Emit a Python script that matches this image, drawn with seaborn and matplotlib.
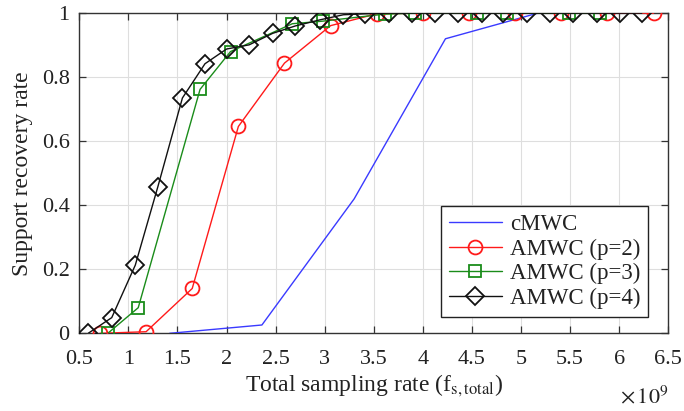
import matplotlib
matplotlib.use("Agg")
import matplotlib.pyplot as plt
import seaborn as sns
import pandas as pd
from matplotlib.lines import Line2D

# Total sampling rate (units of 1e9) and support recovery rate per scheme
cmwc_x = [1.42, 2.36, 3.30, 4.23, 5.17, 6.11]
cmwc_y = [0.0, 0.026, 0.42, 0.92, 1.0, 1.0]

p2_x = [0.71, 1.18, 1.65, 2.12, 2.59, 3.06, 3.53, 4.00, 4.47, 4.94, 5.41, 5.88, 6.35]
p2_y = [0.0, 0.005, 0.14, 0.646, 0.844, 0.961, 0.998, 1.0, 1.0, 1.0, 1.0, 1.0, 1.0]

p3_x = [0.79, 1.10, 1.73, 2.04, 2.67, 2.98, 3.61, 3.92, 4.55, 4.86, 5.49, 5.80]
p3_y = [0.0, 0.08, 0.762, 0.88, 0.967, 0.975, 0.997, 1.0, 1.0, 1.0, 1.0, 1.0]

p4_x = [0.59, 0.83, 1.07, 1.30, 1.55, 1.78, 2.00, 2.23, 2.47, 2.70, 2.95, 3.19,
        3.41, 3.65, 3.89, 4.12, 4.36, 4.60, 4.82, 5.06, 5.29, 5.53, 5.77, 6.01, 6.23]
p4_y = [0.0, 0.049, 0.213, 0.458, 0.735, 0.842, 0.888, 0.901, 0.937, 0.96, 0.979, 0.995,
        0.998, 1.0, 1.0, 1.0, 1.0, 1.0, 1.0, 1.0, 1.0, 1.0, 1.0, 1.0, 1.0]

x_ticks = [0.5, 1, 1.5, 2, 2.5, 3, 3.5, 4, 4.5, 5, 5.5, 6, 6.5]
x_tick_labels = ["0.5", "1", "1.5", "2", "2.5", "3", "3.5", "4", "4.5", "5", "5.5", "6", "6.5"]
y_ticks = [0, 0.2, 0.4, 0.6, 0.8, 1]
y_tick_labels = ["0", "0.2", "0.4", "0.6", "0.8", "1"]

series_names = ["cMWC", "AMWC (p=2)", "AMWC (p=3)", "AMWC (p=4)"]

sns.set_theme(style="white")
plt.rcParams["font.family"] = ["Liberation Serif", "DejaVu Serif"]
plt.rcParams["mathtext.fontset"] = "stix"

fig = plt.figure(figsize=(6.84, 4.11), dpi=100)
ax = fig.add_axes([0.116, 0.189, 0.861, 0.779])

styles = [
    dict(color="#3a3aff", marker=None, ms=0),
    dict(color="#ff1a1a", marker="o", ms=10),
    dict(color="#1a8c1a", marker="s", ms=8),
    dict(color="#111111", marker="D", ms=9),
]
series = [(cmwc_x, cmwc_y), (p2_x, p2_y), (p3_x, p3_y), (p4_x, p4_y)]

handles = []
for (xs, ys), name, st in zip(series, series_names, styles):
    df = pd.DataFrame({"x": xs, "y": ys})
    kw = dict(color=st["color"], linewidth=1.0, zorder=3)
    if st["marker"]:
        kw.update(marker=st["marker"], markersize=st["ms"], markerfacecolor="none",
                  markeredgecolor=st["color"], markeredgewidth=1.3)
    sns.lineplot(data=df, x="x", y="y", ax=ax, sort=False, estimator=None, **kw)
    handles.append(Line2D([], [], color=st["color"], linewidth=1.0,
                          marker=st["marker"] if st["marker"] else None,
                          markersize=st["ms"], markerfacecolor="none",
                          markeredgecolor=st["color"], markeredgewidth=1.3))

ax.set_xlim(0.5, 6.5)
ax.set_ylim(0, 1)
ax.set_xticks(x_ticks)
ax.set_xticklabels(x_tick_labels)
ax.set_yticks(y_ticks)
ax.set_yticklabels(y_tick_labels)
ax.grid(True, color="#dedede", linewidth=0.8)
ax.set_axisbelow(True)
ax.tick_params(direction="in", length=5, width=0.9, color="#333333",
               labelsize=16, labelcolor="#222222", top=True, right=True,
               bottom=True, left=True)
ax.tick_params(axis="x", pad=12)
ax.tick_params(axis="y", pad=7)
for sp in ax.spines.values():
    sp.set_color("#333333")
    sp.set_linewidth(1.0)

ax.set_xlabel(r"Total sampling rate (f$_\mathrm{s,total}$)", fontsize=17,
              color="#222222", labelpad=3)
ax.set_ylabel("Support recovery rate", fontsize=17, color="#222222", labelpad=6)

fig.text(0.977, 0.035, r"$\times\,10^{9}$", ha="right", va="center",
         fontsize=16, color="#222222")

leg = ax.legend(handles, series_names, loc="lower right",
                bbox_to_anchor=(0.966, 0.05), fontsize=16.5, frameon=True,
                fancybox=False, framealpha=1, edgecolor="#222222",
                handlelength=2.3, handletextpad=0.35, borderpad=0.35,
                labelspacing=0.16, borderaxespad=0.0)
leg.get_frame().set_linewidth(1.0)
for t in leg.get_texts():
    t.set_color("#222222")

fig.savefig("out.png", dpi=100)
